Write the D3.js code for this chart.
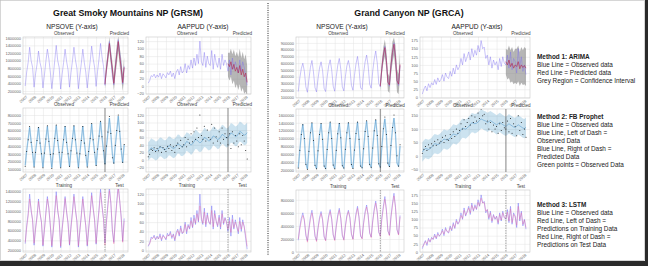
<!DOCTYPE html>
<html>
<head>
<meta charset="utf-8">
<script src="https://cdn.jsdelivr.net/npm/d3@7"></script>
<style>
  body { margin: 0; background: #fff; }
  svg { display: block; font-family: "Liberation Sans", Arial, sans-serif; }
</style>
</head>
<body>
<div id="chart"></div>
<script>
const width = 648;
const height = 266;

// samples every 2 months (Jan, Mar, May, Jul, Sep, Nov) from Jan 2007
const startYear = 2007;
const stepYears = 1 / 6;
const splitYear = 2016;
const years = [2007, 2008, 2009, 2010, 2011, 2012, 2013, 2014, 2015, 2016, 2017, 2018];

// ---- GRSM, NPSOVE ----
const grsmVisits = [
  330000, 700000, 950000, 1350000, 1000000, 820000,
  300000, 650000, 900000, 1250000, 950000, 780000,
  280000, 620000, 980000, 1300000, 1050000, 700000,
  260000, 600000, 1000000, 1400000, 1000000, 820000,
  250000, 640000, 950000, 1300000, 980000, 760000,
  300000, 680000, 1000000, 1350000, 1020000, 800000,
  260000, 600000, 930000, 1300000, 950000, 700000,
  280000, 650000, 980000, 1380000, 1050000, 820000,
  320000, 720000, 1050000, 1450000, 1100000, 850000,
  350000, 800000, 1150000, 1500000, 1150000, 600000,
  360000, 820000, 1200000, 1550000, 1200000, 880000,
  380000, 850000
];
const grsmVisitsArima = [380000, 780000, 1100000, 1450000, 1080000, 780000, 400000, 800000, 1150000, 1500000, 1100000, 800000, 420000, 820000];
const grsmVisitsArimaLo = [250000, 620000, 920000, 1250000, 880000, 580000, 220000, 580000, 900000, 1260000, 850000, 540000, 200000, 550000];
const grsmVisitsArimaHi = [510000, 940000, 1280000, 1620000, 1280000, 980000, 580000, 1020000, 1400000, 1640000, 1350000, 1060000, 640000, 1090000];
const grsmVisitsLstm = [
  360000, 660000, 900000, 1250000, 1050000, 800000,
  340000, 620000, 880000, 1200000, 980000, 760000,
  300000, 600000, 940000, 1250000, 1080000, 720000,
  290000, 590000, 960000, 1320000, 1040000, 800000,
  280000, 610000, 920000, 1260000, 1000000, 740000,
  320000, 650000, 960000, 1300000, 1050000, 780000,
  290000, 590000, 900000, 1250000, 980000, 700000,
  300000, 630000, 950000, 1320000, 1080000, 800000,
  340000, 690000, 1010000, 1380000, 1120000, 830000,
  300000, 760000, 1100000, 1420000, 1180000, 640000,
  330000, 780000, 1150000, 1480000, 1220000, 860000,
  360000, 800000
];
const grsmVisitsProphetObs = [
  140000, 330000, 480000, 650000, 450000, 320000,
  130000, 320000, 470000, 640000, 440000, 300000,
  120000, 310000, 490000, 660000, 460000, 290000,
  110000, 300000, 500000, 670000, 470000, 320000,
  120000, 320000, 480000, 650000, 450000, 300000,
  140000, 340000, 500000, 660000, 480000, 310000,
  120000, 300000, 470000, 650000, 440000, 280000,
  130000, 330000, 500000, 690000, 480000, 320000,
  150000, 360000, 530000, 720000, 520000, 340000,
  170000, 400000, 580000, 780000, 560000, 250000,
  180000, 410000, 600000, 800000, 590000, 360000,
  190000, 420000
];
const grsmVisitsProphetFit = [
  150000, 340000, 490000, 640000, 460000, 310000,
  135000, 325000, 480000, 645000, 450000, 300000,
  125000, 315000, 490000, 655000, 465000, 295000,
  120000, 310000, 495000, 665000, 470000, 310000,
  125000, 320000, 485000, 655000, 455000, 300000,
  135000, 335000, 495000, 660000, 475000, 305000,
  125000, 310000, 480000, 655000, 450000, 290000,
  135000, 330000, 500000, 685000, 480000, 315000,
  150000, 355000, 525000, 715000, 515000, 335000,
  165000, 390000, 570000, 760000, 550000, 300000,
  175000, 405000, 590000, 785000, 580000, 345000,
  185000, 415000
];

// ---- GRSM, AAPPUD ----
const grsmAir = [
  8, 15, 28, 25, 32, 22,
  30, 24, 35, 20, 33, 28,
  22, 36, 30, 40, 25, 35,
  20, 38, 45, 30, 52, 35,
  40, 60, 35, 55, 45, 70,
  48, 75, 55, 85, 60, 120,
  65, 55, 90, 50, 80, 60,
  55, 95, 45, 85, 62, 50,
  75, 45, 85, 55, 70, 60,
  40, 70, 30, 75, 45, 65,
  50, 35, 70, 40, 65, 50,
  25, 2
];
const grsmAirArima = [60, 52, 65, 45, 58, 40, 50, 35, 55, 30, 45, 25, 35, 10];
const grsmAirArimaLo = [25, 15, 25, 5, 15, -5, 5, -10, 5, -15, -5, -20, -15, -25];
const grsmAirArimaHi = [90, 88, 100, 85, 98, 80, 92, 78, 100, 75, 92, 72, 85, 55];
const grsmAirLstm = [
  10, 14, 24, 26, 29, 24,
  27, 25, 31, 23, 30, 28,
  24, 32, 31, 36, 28, 33,
  23, 34, 42, 33, 47, 37,
  38, 55, 40, 52, 47, 63,
  50, 68, 58, 78, 63, 95,
  70, 58, 82, 55, 75, 62,
  57, 85, 50, 78, 63, 53,
  70, 50, 78, 58, 68, 60,
  45, 62, 38, 66, 48, 60,
  50, 40, 62, 45, 60, 50,
  32, 8
];
const grsmAirProphetFit = [
  22, 26, 32, 30, 27, 24,
  25, 29, 35, 33, 30, 27,
  28, 32, 38, 36, 33, 30,
  32, 36, 43, 41, 37, 34,
  37, 42, 49, 47, 43, 39,
  43, 48, 55, 53, 49, 45,
  48, 53, 60, 58, 54, 50,
  52, 57, 64, 62, 58, 54,
  56, 61, 68, 66, 62, 58,
  60, 65, 72, 70, 66, 62,
  64, 69, 76, 74, 70, 66,
  68, 73
];
const grsmAirProphetLo = [
  -3, 2, 6, 4, 1, -2,
  0, 4, 9, 8, 4, 1,
  3, 6, 12, 11, 7, 4,
  6, 11, 17, 16, 11, 9,
  12, 16, 24, 21, 18, 13,
  17, 23, 29, 28, 23, 20,
  22, 28, 34, 33, 28, 25,
  27, 31, 39, 36, 33, 28,
  30, 36, 42, 41, 36, 33,
  34, 39, 46, 44, 40, 36,
  37, 43, 49, 47, 43, 39,
  40, 45
];
const grsmAirProphetHi = [
  47, 51, 58, 55, 53, 49,
  50, 55, 60, 59, 55, 52,
  53, 58, 63, 62, 58, 56,
  57, 62, 68, 67, 62, 59,
  62, 67, 74, 72, 69, 64,
  68, 73, 81, 78, 74, 70,
  73, 78, 86, 83, 79, 76,
  77, 83, 90, 88, 83, 80,
  82, 87, 94, 92, 88, 84,
  86, 91, 99, 97, 93, 89,
  91, 96, 103, 101, 97, 93,
  95, 100
];

// ---- GRCA, NPSOVE ----
const grcaVisits = [
  180000, 380000, 520000, 600000, 480000, 250000,
  170000, 360000, 540000, 640000, 470000, 240000,
  175000, 370000, 530000, 620000, 490000, 230000,
  180000, 390000, 560000, 650000, 500000, 260000,
  185000, 400000, 570000, 670000, 510000, 250000,
  190000, 400000, 560000, 640000, 520000, 270000,
  200000, 420000, 590000, 700000, 520000, 240000,
  210000, 450000, 620000, 720000, 560000, 290000,
  230000, 480000, 660000, 780000, 600000, 300000,
  250000, 520000, 700000, 850000, 640000, 320000,
  260000, 540000, 740000, 900000, 680000, 340000,
  270000, 560000
];
const grcaVisitsArima = [260000, 520000, 720000, 830000, 640000, 320000, 280000, 560000, 760000, 880000, 680000, 340000, 290000, 580000];
const grcaVisitsArimaLo = [180000, 420000, 600000, 700000, 500000, 190000, 160000, 420000, 600000, 720000, 500000, 170000, 140000, 400000];
const grcaVisitsArimaHi = [340000, 620000, 840000, 950000, 780000, 450000, 400000, 700000, 920000, 980000, 860000, 510000, 440000, 760000];
const grcaVisitsLstm = [
  200000, 350000, 480000, 560000, 500000, 280000,
  150000, 340000, 500000, 600000, 490000, 260000,
  160000, 350000, 500000, 590000, 500000, 250000,
  170000, 370000, 530000, 620000, 510000, 270000,
  175000, 380000, 540000, 640000, 520000, 270000,
  180000, 380000, 540000, 620000, 530000, 280000,
  190000, 400000, 560000, 670000, 540000, 260000,
  200000, 430000, 590000, 690000, 570000, 300000,
  220000, 460000, 630000, 750000, 610000, 310000,
  240000, 500000, 670000, 810000, 650000, 330000,
  250000, 520000, 710000, 860000, 690000, 350000,
  260000, 540000
];
const grcaVisitsProphetObs = [
  250000, 700000, 1100000, 1350000, 1000000, 350000,
  220000, 680000, 1150000, 1400000, 950000, 320000,
  230000, 690000, 1100000, 1380000, 980000, 300000,
  240000, 720000, 1150000, 1420000, 1000000, 330000,
  230000, 700000, 1120000, 1380000, 1020000, 310000,
  250000, 730000, 1150000, 1400000, 1000000, 340000,
  240000, 710000, 1130000, 1420000, 980000, 300000,
  260000, 740000, 1180000, 1450000, 1050000, 350000,
  270000, 760000, 1200000, 1480000, 1080000, 360000,
  280000, 800000, 1250000, 1550000, 1100000, 380000,
  290000, 820000, 1280000, 1600000, 1150000, 560000,
  300000, 840000
];
const grcaVisitsProphetFit = [
  260000, 690000, 1110000, 1360000, 990000, 360000,
  230000, 690000, 1140000, 1390000, 960000, 330000,
  235000, 695000, 1110000, 1380000, 985000, 310000,
  240000, 715000, 1140000, 1410000, 1000000, 330000,
  235000, 705000, 1125000, 1390000, 1010000, 320000,
  250000, 725000, 1145000, 1400000, 1000000, 335000,
  245000, 715000, 1135000, 1415000, 990000, 310000,
  260000, 735000, 1170000, 1440000, 1040000, 345000,
  270000, 755000, 1195000, 1470000, 1070000, 355000,
  275000, 780000, 1220000, 1500000, 1080000, 370000,
  285000, 795000, 1240000, 1520000, 1100000, 380000,
  290000, 810000
];

// ---- GRCA, AAPPUD ----
const grcaAir = [
  10, 25, 35, 20, 42, 30,
  45, 38, 55, 40, 60, 48,
  55, 70, 50, 75, 62, 58,
  80, 65, 90, 72, 100, 85,
  95, 120, 100, 135, 110, 125,
  140, 115, 150, 125, 145, 130,
  160, 140, 175, 150, 155, 120,
  130, 100, 125, 90, 115, 100,
  110, 85, 120, 95, 125, 105,
  100, 130, 90, 140, 85, 120,
  110, 75, 150, 95, 125, 80,
  100, 70
];
const grcaAirArima = [110, 100, 115, 95, 105, 90, 100, 95, 110, 88, 100, 92, 98, 90];
const grcaAirArimaLo = [70, 55, 60, 45, 50, 40, 45, 40, 50, 35, 45, 38, 40, 35];
const grcaAirArimaHi = [150, 145, 160, 145, 155, 140, 150, 150, 160, 140, 155, 145, 155, 150];
const grcaAirLstm = [
  15, 22, 32, 25, 38, 32,
  42, 40, 50, 43, 55, 50,
  55, 65, 55, 70, 64, 60,
  75, 68, 85, 75, 95, 87,
  92, 112, 103, 128, 113, 122,
  135, 120, 143, 128, 140, 132,
  152, 142, 165, 150, 152, 125,
  130, 105, 120, 95, 112, 102,
  108, 90, 115, 98, 120, 106,
  102, 122, 95, 132, 90, 115,
  108, 82, 140, 100, 120, 85,
  98, 75
];
const grcaAirProphetFit = [
  15, 22, 28, 26, 24, 27,
  32, 40, 46, 44, 42, 45,
  50, 57, 63, 61, 59, 62,
  67, 75, 82, 80, 78, 82,
  88, 97, 104, 102, 100, 104,
  110, 117, 124, 122, 120, 122,
  126, 132, 138, 135, 132, 130,
  125, 128, 132, 128, 124, 120,
  116, 120, 125, 121, 117, 113,
  110, 115, 120, 116, 112, 108,
  106, 111, 116, 112, 108, 104,
  102, 107
];
const grcaAirProphetLo = [
  -22, -14, -8, -11, -12, -9,
  -4, 4, 10, 8, 6, 9,
  14, 21, 28, 25, 23, 26,
  31, 40, 46, 44, 42, 47,
  52, 61, 68, 67, 64, 69,
  74, 82, 88, 87, 84, 86,
  90, 96, 102, 100, 96, 94,
  89, 93, 96, 92, 88, 85,
  80, 84, 90, 85, 81, 77,
  74, 79, 84, 80, 76, 72,
  70, 75, 80, 76, 72, 68,
  66, 71
];
const grcaAirProphetHi = [
  51, 58, 64, 62, 60, 63,
  68, 76, 82, 80, 78, 81,
  86, 93, 99, 97, 95, 98,
  103, 111, 118, 116, 114, 118,
  124, 133, 140, 138, 136, 140,
  146, 153, 160, 158, 156, 158,
  162, 168, 174, 171, 168, 166,
  161, 164, 168, 164, 160, 156,
  152, 156, 161, 157, 153, 149,
  146, 151, 156, 152, 148, 144,
  142, 147, 152, 148, 144, 140,
  138, 143
];

const visitTicks16 = [200000, 400000, 600000, 800000, 1000000, 1200000, 1400000, 1600000];
const visitTicks14 = [200000, 400000, 600000, 800000, 1000000, 1200000, 1400000];
const visitTicks8 = [100000, 200000, 300000, 400000, 500000, 600000, 700000, 800000];
const visitTicks9 = [100000, 200000, 300000, 400000, 500000, 600000, 700000, 800000, 900000];
const visitTicksLstm = [0, 200000, 400000, 600000, 800000];
const airTicks120 = [-20, 0, 20, 40, 60, 80, 100, 120];
const airTicks120Pos = [0, 20, 40, 60, 80, 100, 120];
const airTicks175 = [0, 25, 50, 75, 100, 125, 150, 175];
const airTicks150 = [-50, 0, 50, 100, 150];

const methodNotes = [
  {title: "Method 1: ARIMA", lines: ["Blue Line = Observed data", "Red Line = Predicted data", "Grey Region = Confidence Interval"]},
  {title: "Method 2: FB Prophet", lines: ["Blue Line = Observed data", "Blue Line, Left of Dash =", "Observed Data", "Blue Line, Right of Dash =", "Predicted Data", "Green points = Observed Data"]},
  {title: "Method 3: LSTM", lines: ["Blue Line = Observed data", "Red Line, Left of Dash =", "Predictions on Training Data", "Red Line, Right of Dash =", "Predictions on Test Data"]}
];

const svg = d3.select("#chart").append("svg")
  .attr("width", width)
  .attr("height", height);

svg.append("rect").attr("width", width).attr("height", height).attr("fill", "#fff");

const predOffset = Math.round((splitYear - startYear) / stepYears);

function pts(values, offset = 0) {
  return values.map((v, i) => ({t: startYear + (offset + i) * stepYears, v: v}));
}
function band(lo, hi, offset = 0) {
  return lo.map((v, i) => ({t: startYear + (offset + i) * stepYears, lo: v, hi: hi[i]}));
}

let clipId = 0;

function drawPanel(p) {
  const g = svg.append("g").attr("transform", `translate(${p.x},${p.y})`);
  const x = d3.scaleLinear().domain([2006.75, 2018.6]).range([0, p.w]);
  const y = d3.scaleLinear().domain(p.yDomain).range([p.h, 0]);

  const yAxis = g.append("g")
    .call(d3.axisLeft(y).tickValues(p.yTicks).tickSize(-p.w).tickPadding(2).tickFormat(d3.format("d")));
  const xAxis = g.append("g")
    .attr("transform", `translate(0,${p.h})`)
    .call(d3.axisBottom(x).tickValues(years).tickSize(-p.h).tickPadding(1.5).tickFormat(d3.format("d")));

  [yAxis, xAxis].forEach(a => {
    a.select(".domain").remove();
    a.selectAll("line").attr("stroke", "#e3e3e3").attr("stroke-width", 0.5);
    a.selectAll("text").attr("font-size", 4).attr("fill", "#666").attr("font-family", "Liberation Sans, Arial, sans-serif");
  });
  xAxis.selectAll("text")
    .attr("text-anchor", "end")
    .attr("dx", "-0.2em")
    .attr("dy", "0.6em")
    .attr("transform", "rotate(-40)");

  g.append("rect")
    .attr("width", p.w).attr("height", p.h)
    .attr("fill", "none").attr("stroke", "#c8c8c8").attr("stroke-width", 0.6);

  const id = "clip" + (clipId++);
  g.append("clipPath").attr("id", id).append("rect").attr("width", p.w).attr("height", p.h);
  const plot = g.append("g").attr("clip-path", `url(#${id})`);

  const line = d3.line().x(d => x(d.t)).y(d => y(d.v));
  const area = d3.area().x(d => x(d.t)).y0(d => y(d.lo)).y1(d => y(d.hi));
  const xs = x(splitYear);

  // region labels above the box
  g.append("text").attr("x", xs / 2).attr("y", -1.8)
    .attr("text-anchor", "middle").attr("font-size", 4.6).attr("fill", "#444").text(p.labels[0]);
  g.append("text").attr("x", (xs + p.w) / 2 + 3).attr("y", -1.8)
    .attr("text-anchor", "middle").attr("font-size", 4.6).attr("fill", "#444").text(p.labels[1]);

  if (p.kind === "arima") {
    plot.append("path").attr("d", area(band(p.lo, p.hi, predOffset)))
      .attr("fill", "#7a7a7a").attr("opacity", 0.55);
    plot.append("path").attr("d", line(pts(p.obs)))
      .attr("fill", "none").attr("stroke", "#7b6cf0").attr("stroke-width", 0.5).attr("opacity", 0.8);
    plot.append("path").attr("d", line(pts(p.pred, predOffset)))
      .attr("fill", "none").attr("stroke", "#b0305a").attr("stroke-width", 0.8).attr("opacity", 0.85);
  }

  if (p.kind === "prophet") {
    if (p.lo) {
      plot.append("path").attr("d", area(band(p.lo, p.hi)))
        .attr("fill", "#0072B2").attr("opacity", 0.2);
    } else {
      plot.append("path").attr("d", line(pts(p.fit)))
        .attr("fill", "none").attr("stroke", "#4a9fd6").attr("stroke-width", 1.6).attr("opacity", 0.25);
    }
    plot.append("path").attr("d", line(pts(p.fit)))
      .attr("fill", "none").attr("stroke", "#2a80c0").attr("stroke-width", 0.45).attr("opacity", 0.9);
    plot.selectAll("circle").data(pts(p.obs)).enter().append("circle")
      .attr("cx", d => x(d.t)).attr("cy", d => y(d.v)).attr("r", 0.5).attr("fill", "#111");
    plot.append("line").attr("x1", xs).attr("x2", xs).attr("y1", 0).attr("y2", p.h)
      .attr("stroke", "#444").attr("stroke-width", 0.6);
  }

  if (p.kind === "lstm") {
    plot.append("path").attr("d", line(pts(p.obs)))
      .attr("fill", "none").attr("stroke", "#5a5af5").attr("stroke-width", 0.5).attr("opacity", 0.8);
    plot.append("path").attr("d", line(pts(p.pred)))
      .attr("fill", "none").attr("stroke", "#f0609a").attr("stroke-width", 0.5).attr("opacity", 0.75);
    plot.append("line").attr("x1", xs).attr("x2", xs).attr("y1", 0).attr("y2", p.h)
      .attr("stroke", "#555").attr("stroke-width", 0.5).attr("stroke-dasharray", "1.5,1");
  }
}

const arimaLabels = ["Observed", "Predicted"];
const lstmLabels = ["Training", "Test"];

const panels = [
  // GRSM
  {x: 23, y: 37, w: 105, h: 57, kind: "arima", labels: arimaLabels, yDomain: [120000, 1620000], yTicks: visitTicks16,
    obs: grsmVisits, pred: grsmVisitsArima, lo: grsmVisitsArimaLo, hi: grsmVisitsArimaHi},
  {x: 146, y: 37, w: 105, h: 57, kind: "arima", labels: arimaLabels, yDomain: [-21, 131], yTicks: airTicks120,
    obs: grsmAir, pred: grsmAirArima, lo: grsmAirArimaLo, hi: grsmAirArimaHi},
  {x: 23, y: 108, w: 105, h: 64, kind: "prophet", labels: arimaLabels, yDomain: [65000, 890000], yTicks: visitTicks8,
    obs: grsmVisitsProphetObs, fit: grsmVisitsProphetFit},
  {x: 146, y: 108, w: 105, h: 64, kind: "prophet", labels: arimaLabels, yDomain: [-33, 139], yTicks: airTicks120,
    obs: grsmAir, fit: grsmAirProphetFit, lo: grsmAirProphetLo, hi: grsmAirProphetHi},
  {x: 23, y: 189, w: 105, h: 63, kind: "lstm", labels: lstmLabels, yDomain: [160000, 1455000], yTicks: visitTicks14,
    obs: grsmVisits, pred: grsmVisitsLstm},
  {x: 146, y: 189, w: 105, h: 63, kind: "lstm", labels: lstmLabels, yDomain: [-4, 131], yTicks: airTicks120Pos,
    obs: grsmAir, pred: grsmAirLstm},
  // GRCA
  {x: 296, y: 37, w: 108, h: 61, kind: "arima", labels: arimaLabels, yDomain: [85000, 987000], yTicks: visitTicks9,
    obs: grcaVisits, pred: grcaVisitsArima, lo: grcaVisitsArimaLo, hi: grcaVisitsArimaHi},
  {x: 420, y: 37, w: 110, h: 61, kind: "arima", labels: arimaLabels, yDomain: [-2, 186], yTicks: airTicks175,
    obs: grcaAir, pred: grcaAirArima, lo: grcaAirArimaLo, hi: grcaAirArimaHi},
  {x: 296, y: 109, w: 108, h: 63, kind: "prophet", labels: arimaLabels, yDomain: [150000, 1750000], yTicks: visitTicks16,
    obs: grcaVisitsProphetObs, fit: grcaVisitsProphetFit},
  {x: 420, y: 109, w: 110, h: 63, kind: "prophet", labels: arimaLabels, yDomain: [-60, 175], yTicks: airTicks150,
    obs: grcaAir, fit: grcaAirProphetFit, lo: grcaAirProphetLo, hi: grcaAirProphetHi},
  {x: 296, y: 190, w: 108, h: 62, kind: "lstm", labels: lstmLabels, yDomain: [0, 950000], yTicks: visitTicksLstm,
    obs: grcaVisits, pred: grcaVisitsLstm},
  {x: 420, y: 190, w: 110, h: 62, kind: "lstm", labels: lstmLabels, yDomain: [0, 190], yTicks: airTicks175,
    obs: grcaAir, pred: grcaAirLstm}
];

panels.forEach(drawPanel);

// park titles
svg.append("text").attr("x", 128).attr("y", 16).attr("text-anchor", "middle")
  .attr("font-size", 8.8).attr("font-weight", "bold").attr("fill", "#111")
  .text("Great Smoky Mountains NP (GRSM)");
svg.append("text").attr("x", 409).attr("y", 16).attr("text-anchor", "middle")
  .attr("font-size", 8.8).attr("font-weight", "bold").attr("fill", "#111")
  .text("Grand Canyon NP (GRCA)");

// column titles
[[72, "NPSOVE (Y-axis)"], [203, "AAPPUD (Y-axis)"], [342, "NPSOVE (Y-axis)"], [477, "AAPPUD (Y-axis)"]].forEach(d => {
  svg.append("text").attr("x", d[0]).attr("y", 29).attr("text-anchor", "middle")
    .attr("font-size", 6.6).attr("fill", "#222").text(d[1]);
});

// dotted divider
svg.append("line").attr("x1", 268).attr("x2", 268).attr("y1", 3).attr("y2", 256)
  .attr("stroke", "#222").attr("stroke-width", 1).attr("stroke-dasharray", "1,1.3");

// method notes
const noteTops = [59, 119, 207];
methodNotes.forEach((m, i) => {
  const t = svg.append("text").attr("x", 537).attr("y", noteTops[i]).attr("font-size", 6.4).attr("fill", "#222");
  t.append("tspan").attr("x", 537).attr("font-weight", "bold").text(m.title);
  m.lines.forEach(l => t.append("tspan").attr("x", 537).attr("dy", 8).text(l));
});

// frame
svg.append("rect").attr("x", 0.5).attr("y", 0.5).attr("width", 644).attr("height", 260)
  .attr("fill", "none").attr("stroke", "#bbb").attr("stroke-width", 0.6);
svg.append("rect").attr("x", 0).attr("y", 261).attr("width", width).attr("height", 5).attr("fill", "#2a2a2a");
svg.append("rect").attr("x", 645).attr("y", 0).attr("width", 3).attr("height", height).attr("fill", "#2a2a2a");
</script>
</body>
</html>
